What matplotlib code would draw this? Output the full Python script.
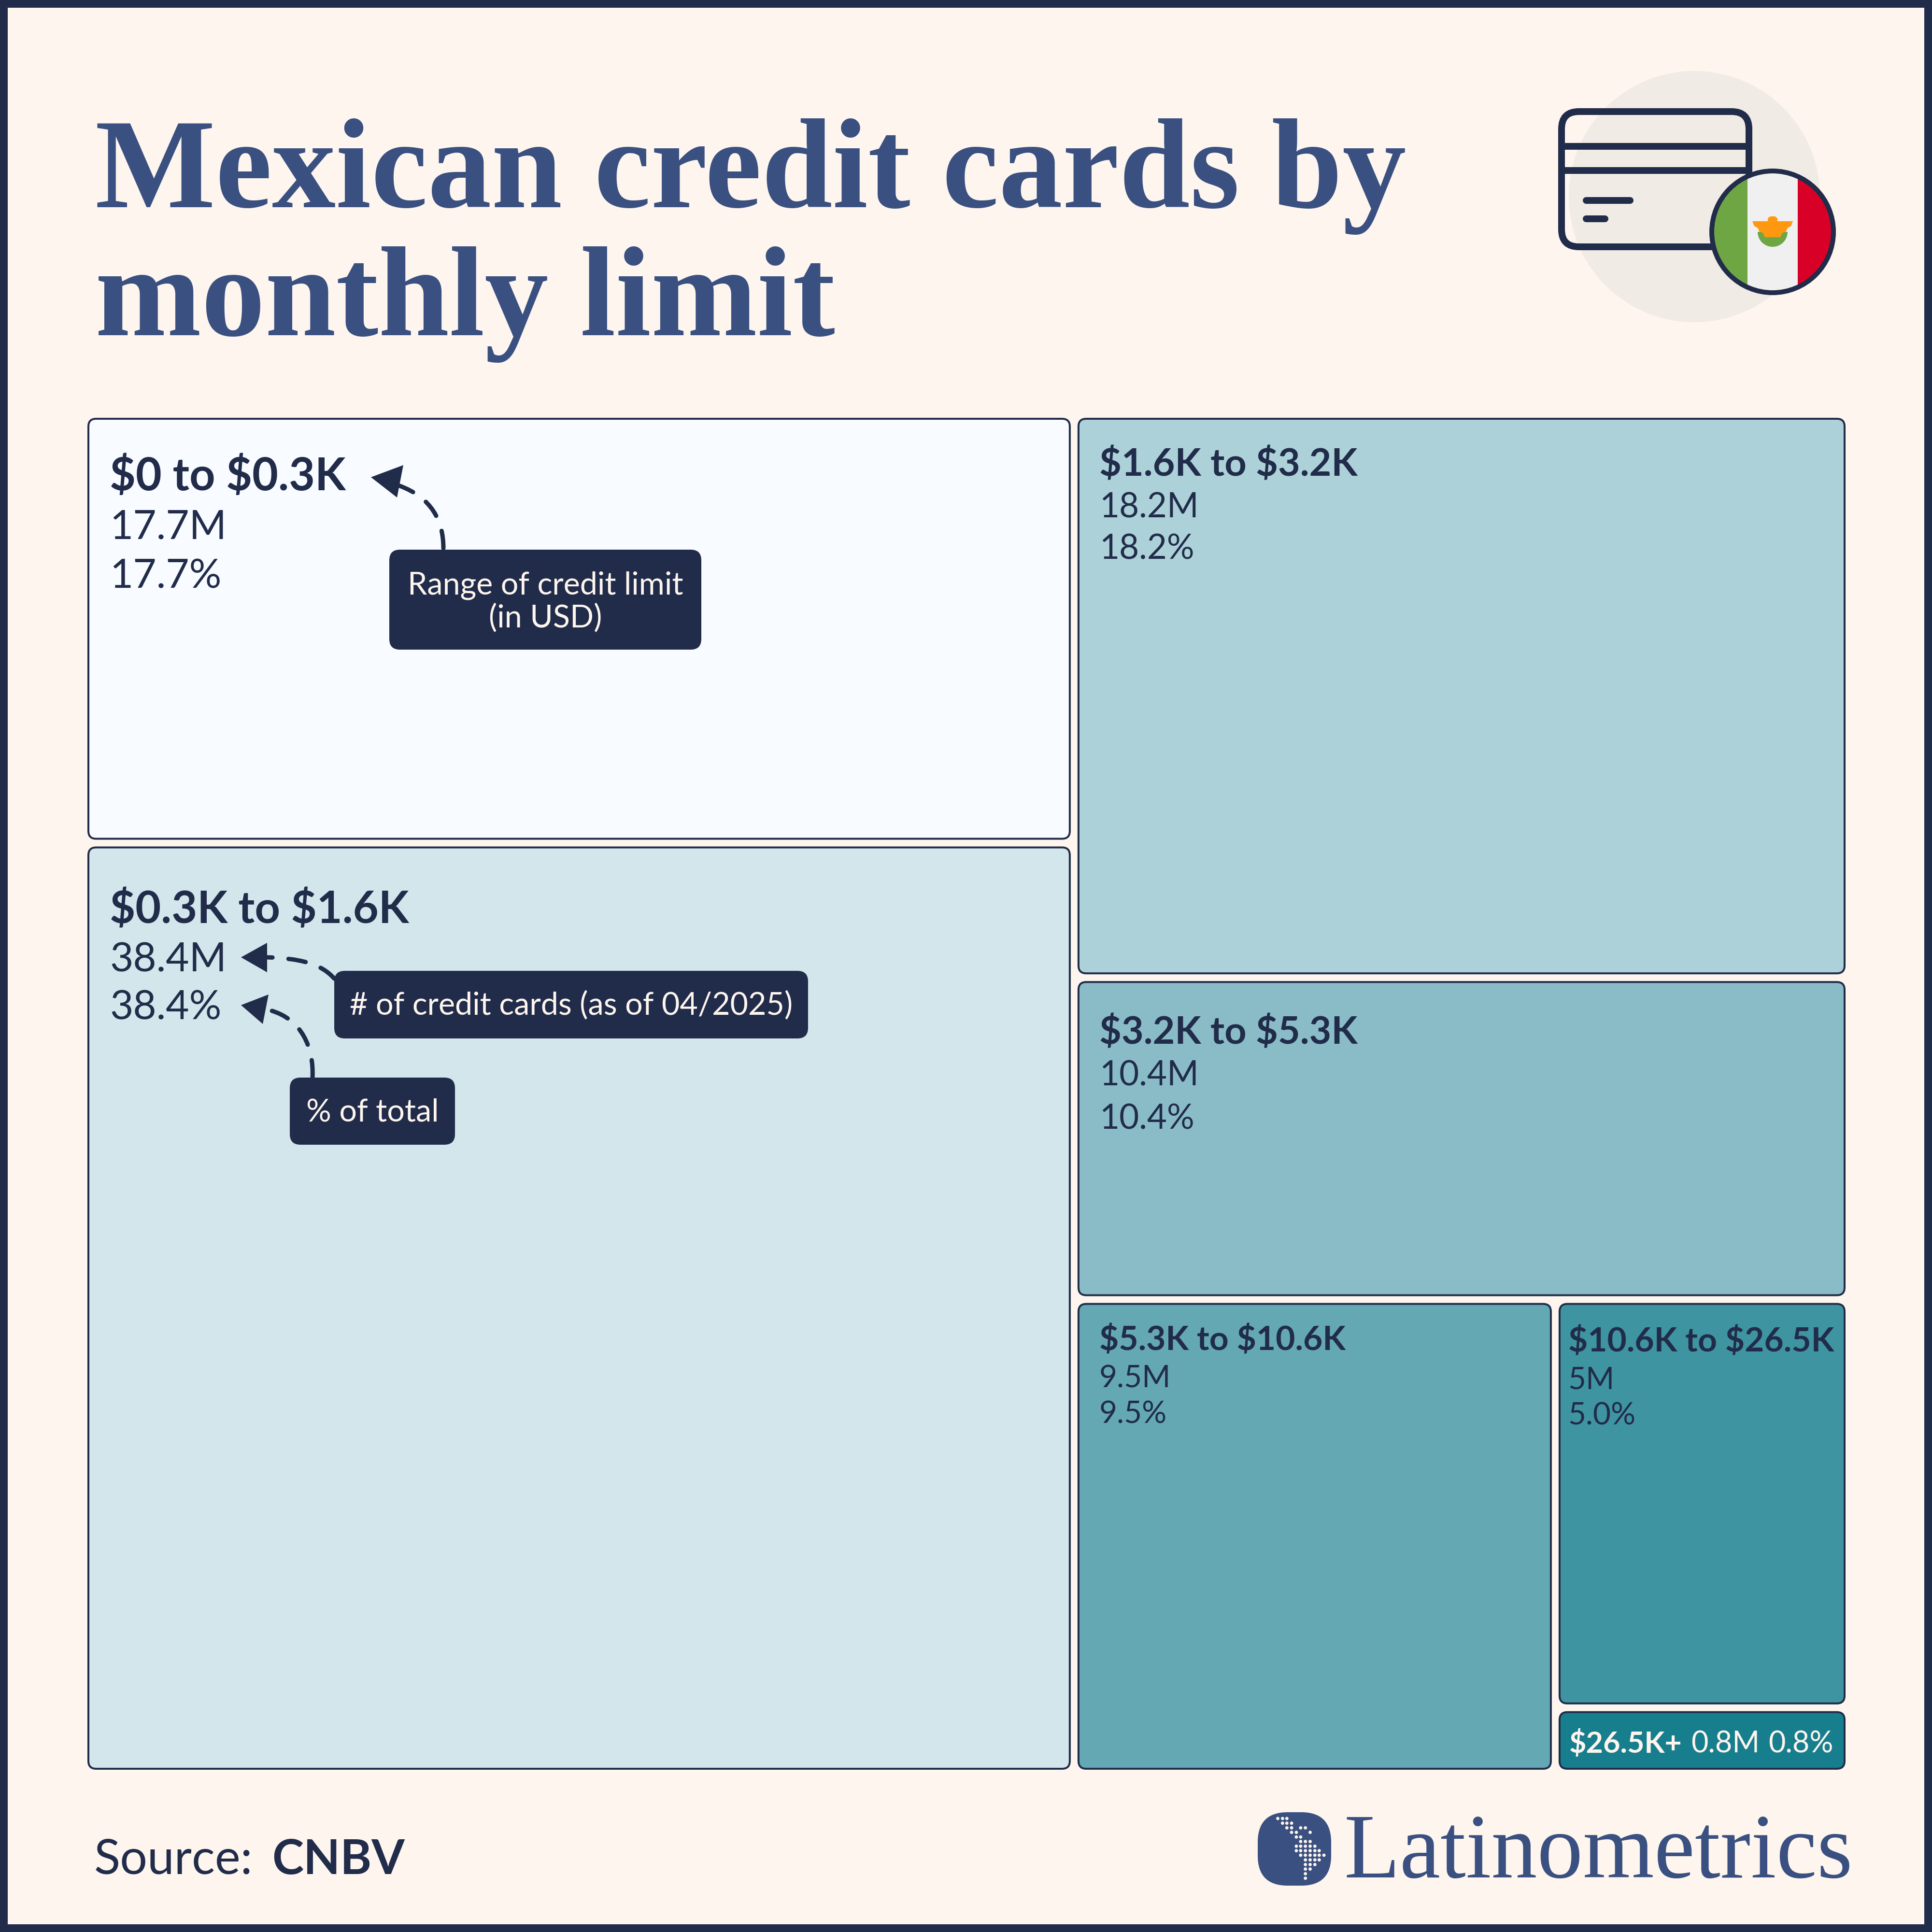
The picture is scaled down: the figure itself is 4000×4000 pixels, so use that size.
import matplotlib
matplotlib.use("Agg")
import matplotlib.pyplot as plt
from matplotlib.patches import FancyBboxPatch, Rectangle, Circle, Polygon, PathPatch, Wedge
from matplotlib.path import Path

# ---------- data ----------
ranges = ["$0 to $0.3K", "$0.3K to $1.6K", "$1.6K to $3.2K", "$3.2K to $5.3K",
          "$5.3K to $10.6K", "$10.6K to $26.5K", "$26.5K+"]
cards_millions = [17.7, 38.4, 18.2, 10.4, 9.5, 5, 0.8]
share_percent = [17.7, 38.4, 18.2, 10.4, 9.5, 5.0, 0.8]
tile_colors = ["#F8FBFF", "#D2E6EB", "#ADD1D8", "#8ABCC7", "#64A8B3", "#3F94A1", "#177E8E"]

# ---------- style ----------
BG = "#FDF5EE"; INK = "#212C4A"; BLUE = "#3A5080"
SANS = "Lato"; SERIF = "Liberation Serif"
plt.rcParams["lines.scale_dashes"] = False

fig = plt.figure(figsize=(40, 40), dpi=100, facecolor=BG)
ax = fig.add_axes([0, 0, 1, 1])
ax.set_xlim(0, 4000); ax.set_ylim(4000, 0); ax.axis("off")
PT = 72 / 100  # points per pixel


def rbox(x0, y0, x1, y1, r, fc, ec="none", lw=0, z=2):
    p = FancyBboxPatch((x0, y0), x1 - x0, y1 - y0, boxstyle=f"round,pad=0,rounding_size={r}",
                       fc=fc, ec=ec, lw=lw * PT, zorder=z)
    ax.add_patch(p)
    return p


def txt(x, y, s, size, color=INK, weight="normal", ha="left", family=SANS, z=6):
    return ax.text(x, y, s, fontsize=size, color=color, fontweight=weight, ha=ha, va="baseline",
                   family=family, zorder=z, parse_math=False)


def width_of(t):
    r = fig.canvas.get_renderer()
    bb = t.get_window_extent(r)
    return bb.width


# ---------- frame ----------
ax.add_patch(Rectangle((8, 8), 3984, 3984, fc="none", ec=INK, lw=16 * PT, zorder=10))

# ---------- title ----------
txt(197, 429, "Mexican credit cards by", 190, BLUE, "bold", family=SERIF)
txt(197, 694, "monthly limit", 190, BLUE, "bold", family=SERIF)

# ---------- treemap layout, from the card counts ----------
GAP = 18
X0, Y0, X1, Y1 = 183 - GAP / 2, 867 - GAP / 2, 3819 + GAP / 2, 3662 + GAP / 2
v = cards_millions
total = sum(v)
xm = X0 + (X1 - X0) * (v[0] + v[1]) / total
ya = Y0 + (Y1 - Y0) * v[0] / (v[0] + v[1])
right = sum(v[2:])
yc = Y0 + (Y1 - Y0) * v[2] / right
yd = yc + (Y1 - yc) * v[3] / sum(v[3:])
xe = xm + (X1 - xm) * v[4] / sum(v[4:])
yf = yd + (Y1 - yd) * v[5] / sum(v[5:])
cells = [(X0, Y0, xm, ya), (X0, ya, xm, Y1), (xm, Y0, X1, yc), (xm, yc, X1, yd),
         (xm, yd, xe, Y1), (xe, yd, X1, yf), (xe, yf, X1, Y1)]
tiles = [(a + GAP / 2, b + GAP / 2, c - GAP / 2, d - GAP / 2) for a, b, c, d in cells]

label_pad = [44, 44, 43, 43, 43, 18]
head_size = [67, 66, 57, 57, 50, 50]
body_size = [60, 60, 51, 51, 46, 46]
baselines = [(148, 248, 350), (157, 257, 356), (118, 204, 291), (128, 214, 304), (96, 173, 247), (99, 176, 250)]

for i, (a, b, c, d) in enumerate(tiles):
    rbox(a, b, c, d, 16, tile_colors[i], INK, 4, z=2)
for i in range(6):
    a, b, c, d = tiles[i]
    x = a + label_pad[i]
    txt(x, b + baselines[i][0], ranges[i], head_size[i], weight="bold")
    txt(x, b + baselines[i][1], f"{cards_millions[i]:g}M", body_size[i])
    txt(x, b + baselines[i][2], f"{share_percent[i]:.1f}%", body_size[i])

# last tile: one line
a, b, c, d = tiles[6]
t = txt(a + 20, b + 84, ranges[6], 44, BG, "bold")
w = width_of(t)
t2 = txt(a + 20 + w + 18, b + 84, f"{cards_millions[6]:g}M", 44, BG)
w2 = width_of(t2)
txt(a + 20 + w + 18 + w2 + 18, b + 84, f"{share_percent[6]:.1f}%", 44, BG)


# ---------- annotations ----------
def note(x0, y0, x1, y1, lines, baselines_):
    rbox(x0, y0, x1, y1, 22, INK, z=5)
    for s, yy in zip(lines, baselines_):
        txt((x0 + x1) / 2, yy, s, 46.5, BG, ha="center")


def curve(pts, head):
    codes = [Path.MOVETO] + [Path.CURVE4] * (len(pts) - 1)
    ax.add_patch(PathPatch(Path(pts, codes), fc="none", ec=INK, lw=9 * PT,
                           linestyle=(0, (26, 24)), capstyle="round", zorder=4))
    ax.add_patch(Polygon(head, closed=True, fc=INK, ec="none", zorder=4))


note(806, 1138, 1452, 1345, ["Range of credit limit", "(in USD)"], [1230, 1298])
note(692, 2010, 1673, 2150, ["# of credit cards (as of 04/2025)"], [2100])
note(600, 2231, 942, 2370, ["% of total"], [2321])
curve([(918, 1135), (918, 1080), (895, 1030), (825, 1005)], [(768, 988), (835, 963), (822, 1030)])
curve([(692, 2026), (665, 1995), (620, 1984), (552, 1982)], [(499, 1982), (553, 1952), (553, 2013)])
curve([(647, 2231), (650, 2170), (625, 2110), (560, 2092)], [(499, 2081), (556, 2059), (544, 2120)])

# ---------- icon ----------
ax.add_patch(Circle((3508, 407), 260, fc="#F0EBE4", ec="none", zorder=2))
rbox(3233, 231, 3621, 511, 36, "none", INK, 14, z=3)
for yy in (303, 353):
    ax.plot([3226, 3628], [yy, yy], color=INK, lw=14 * PT, zorder=3, solid_capstyle="butt")
ax.plot([3284, 3375], [415, 415], color=INK, lw=14 * PT, zorder=3, solid_capstyle="round")
ax.plot([3284, 3323], [453, 453], color=INK, lw=14 * PT, zorder=3, solid_capstyle="round")

cx, cy, R = 3670, 480, 125
clip = Circle((cx, cy), R, transform=ax.transData)
for (l, r_, col) in [(cx - R, 3618, "#6EA644"), (3618, 3722, "#F0F0F0"), (3722, cx + R, "#D80027")]:
    ax.add_patch(Rectangle((l, cy - R), r_ - l, 2 * R, fc=col, ec="none", zorder=4, clip_path=clip))
ax.add_patch(Wedge((cx, cy), 31, 0, 180, fc="#6EA644", ec="none", zorder=5))
ax.add_patch(Polygon([(3628, 458), (3660, 458), (3660, 452), (3665, 448), (3675, 448), (3680, 452),
                      (3680, 458), (3712, 458), (3708, 468), (3701, 472), (3697, 480), (3690, 482),
                      (3686, 491), (3654, 491), (3650, 482), (3643, 480), (3639, 472), (3632, 468)],
                     closed=True, fc="#FF9811", ec="none", zorder=6))
ax.add_patch(Circle((cx, cy), 126, fc="none", ec=INK, lw=10 * PT, zorder=7))

# ---------- footer ----------
s = txt(195, 3880, "Source:", 72)
txt(563, 3880, "CNBV", 71, weight="bold")

rbox(2604, 3752, 2756, 3904, 62, BLUE, z=2)
grid_y = [345, 374, 403, 431, 460, 488, 517, 545, 573, 602, 631, 659, 688, 716]
grid_x = [[163, 174, 184], [174, 184, 195], [184, 195, 216, 227], [195, 206, 238], [206, 216],
          [216, 227, 238], [206, 216, 227, 238, 249], [206, 216, 227, 238, 249, 259],
          [216, 227, 238, 249, 259, 270], [227, 238, 249, 259], [227, 238, 249], [227, 238], [227], [227]]
for gy, xs in zip(grid_y, grid_x):
    for gx in xs:
        ax.add_patch(Circle((2500 + gx / 1.12, 3650 + gy / 3), 3.4, fc=BG, ec="none", zorder=3))
txt(2782, 3887, "Latinometrics", 136.5, BLUE, "normal", family=SERIF)

fig.savefig("out.png", dpi=100, facecolor=BG)
